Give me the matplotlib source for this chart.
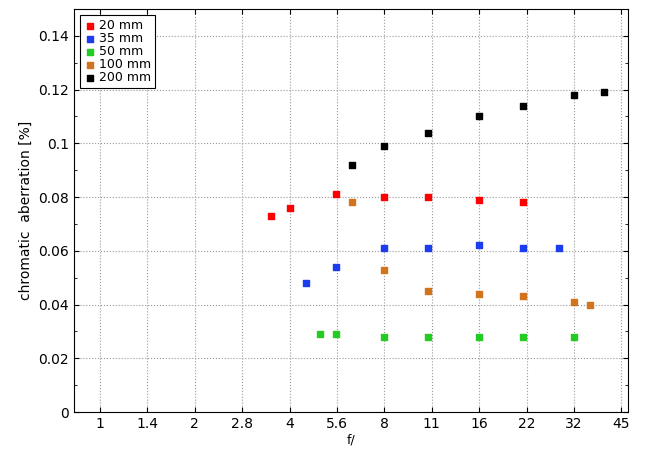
import numpy as np
import matplotlib.pyplot as plt
from matplotlib.ticker import FixedLocator, FixedFormatter, MultipleLocator

# f-numbers and chromatic aberration [%] per focal length
f_20 = [3.5, 4, 5.6, 8, 11, 16, 22]
ca_20 = [0.073, 0.076, 0.081, 0.080, 0.080, 0.079, 0.078]
f_35 = [4.5, 5.6, 8, 11, 16, 22, 28.7]
ca_35 = [0.048, 0.054, 0.061, 0.061, 0.062, 0.061, 0.061]
f_50 = [5.0, 5.6, 8, 11, 16, 22, 32]
ca_50 = [0.029, 0.029, 0.028, 0.028, 0.028, 0.028, 0.028]
f_100 = [6.3, 8, 11, 16, 22, 32, 36]
ca_100 = [0.078, 0.053, 0.045, 0.044, 0.043, 0.041, 0.040]
f_200 = [6.3, 8, 11, 16, 22, 32, 40]
ca_200 = [0.092, 0.099, 0.104, 0.110, 0.114, 0.118, 0.119]

xticks = [1, 1.4, 2, 2.8, 4, 5.6, 8, 11, 16, 22, 32, 45]
xtick_pos = [2 ** (i / 2) for i in range(len(xticks))]

fig = plt.figure(figsize=(6.5, 4.5), dpi=100)
ax = fig.add_axes([74 / 650, 1 - 412 / 450, (628 - 74) / 650, (412 - 9) / 450])

series = [
    (f_20, ca_20, "#ff0000", "20 mm"),
    (f_35, ca_35, "#1c3cf0", "35 mm"),
    (f_50, ca_50, "#22cc22", "50 mm"),
    (f_100, ca_100, "#d2741e", "100 mm"),
    (f_200, ca_200, "#000000", "200 mm"),
]
for fx, ca, c, lab in series:
    ax.scatter(fx, ca, marker="s", s=24, color=c, label=lab, zorder=3)

ax.set_xscale("log")
ax.set_xlim(0.827, 47.5)
ax.xaxis.set_major_locator(FixedLocator(xtick_pos))
ax.xaxis.set_major_formatter(FixedFormatter([str(t) for t in xticks]))
ax.xaxis.set_minor_locator(FixedLocator([]))
ax.set_ylim(0, 0.15)
ax.yaxis.set_minor_locator(MultipleLocator(0.01))
ax.set_yticks(np.arange(0, 0.141, 0.02))
ax.set_yticklabels(["0", "0.02", "0.04", "0.06", "0.08", "0.1", "0.12", "0.14"])
ax.tick_params(direction="in", labelsize=10, top=True, right=True, which="both")
ax.grid(True, linestyle=":", color="#999999", linewidth=0.8)
ax.set_xlabel("f/", fontsize=9, labelpad=2)
ax.set_ylabel("chromatic  aberration [%]", fontsize=10)

leg = ax.legend(loc="upper left", fontsize=9, handletextpad=0.2, handlelength=1.0,
                labelspacing=0.0, borderpad=0.3, fancybox=False, framealpha=1,
                edgecolor="black", markerscale=0.8)
leg.get_frame().set_linewidth(0.8)

fig.savefig("out.png", dpi=100)
